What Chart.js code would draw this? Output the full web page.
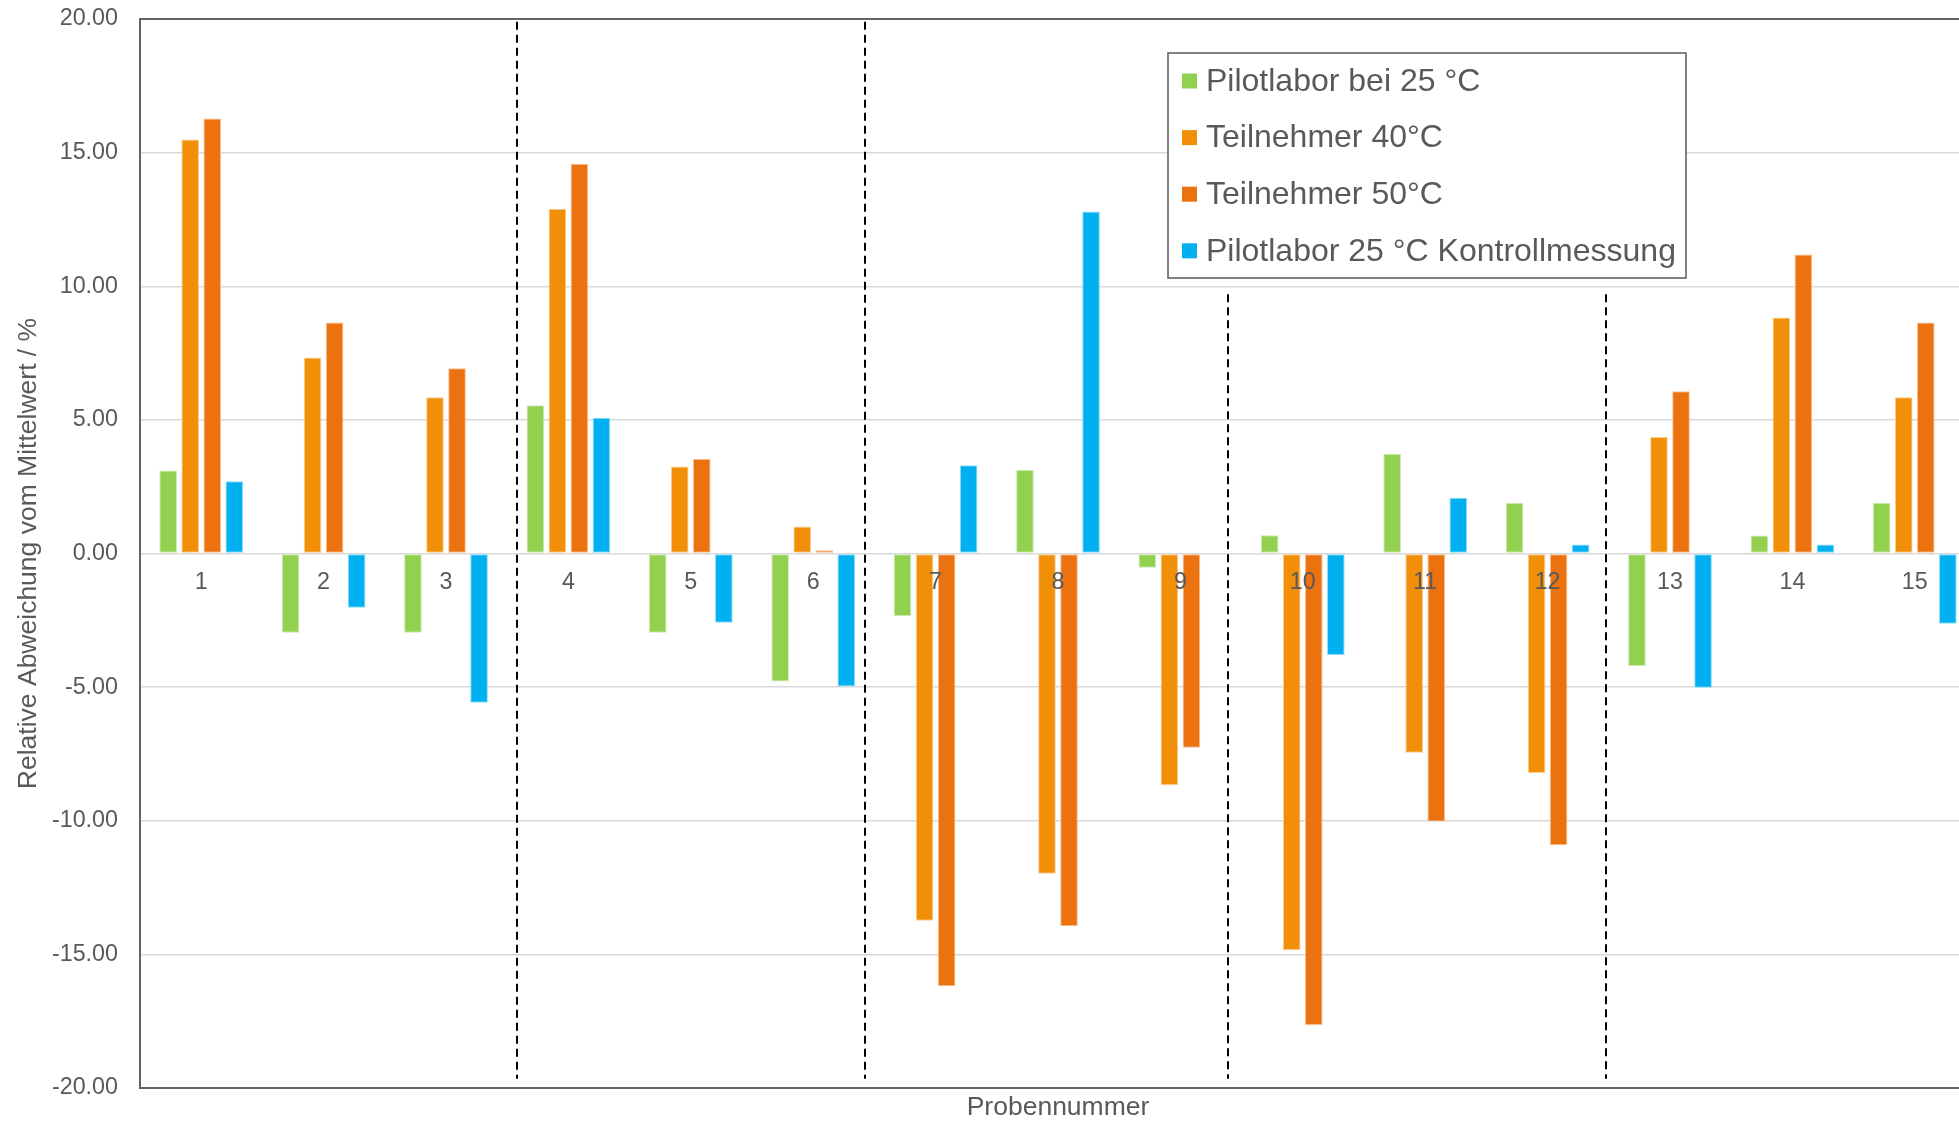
<!DOCTYPE html>
<html>
<head>
<meta charset="utf-8">
<title>Relative Abweichung vom Mittelwert</title>
<script src="https://cdn.jsdelivr.net/npm/chart.js@4.4.1/dist/chart.umd.min.js"></script>
<style>
  html, body { margin: 0; padding: 0; background: #fff; overflow: hidden; }
  #wrap { position: absolute; left: 0; top: 0; width: 1980px; height: 1121px; }
</style>
</head>
<body>
<div id="wrap"><canvas id="chart"></canvas></div>
<script>
// Probennummern
var samples = ['1', '2', '3', '4', '5', '6', '7', '8', '9', '10', '11', '12', '13', '14', '15'];

// relative Abweichung vom Mittelwert in %
var pilot25  = [3.11, -2.97, -2.97, 5.55, -2.97, -4.79, -2.34, 3.12, -0.53, 0.68, 3.73, 1.90, -4.21, 0.67, 1.90];
var teil40   = [15.49, 7.33, 5.85, 12.90, 3.26, 1.01, -13.74, -11.98, -8.67, -14.85, -7.46, -8.21, 4.36, 8.83, 5.85];
var teil50   = [16.28, 8.64, 6.93, 14.58, 3.54, 0.12, -16.19, -13.95, -7.27, -17.64, -10.03, -10.92, 6.07, 11.19, 8.64];
var kontroll = [2.70, -2.03, -5.58, 5.08, -2.59, -4.98, 3.30, 12.80, null, -3.80, 2.09, 0.34, -5.02, 0.34, -2.63];

// y-Achse
var yMin = -20, yMax = 20, yStep = 5;

// gestrichelte Trennlinien (Position in Kategorien, Ober-/Unterkante in %)
var dividerAt     = [2.58, 5.42, 8.39, 11.48];
var dividerTop    = [19.9, 19.9, 9.7, 9.7];
var dividerBottom = -19.65;

var colGreen = '#92D050', colOrange = '#F18F08', colDark = '#EC710F', colBlue = '#00B0F0';

function tint(hex, f) {
  var n = parseInt(hex.slice(1), 16);
  var r = (n >> 16) & 255, g = (n >> 8) & 255, b = n & 255;
  r = Math.round(r + (255 - r) * f); g = Math.round(g + (255 - g) * f); b = Math.round(b + (255 - b) * f);
  return 'rgb(' + r + ',' + g + ',' + b + ')';
}

function barSet(label, data, color) {
  return {
    label: label,
    data: data,
    backgroundColor: color,
    borderColor: tint(color, 0.55),
    borderWidth: 1,
    borderSkipped: false,
    categoryPercentage: 0.72,
    barPercentage: 0.8
  };
}

Chart.defaults.font.family = "'Liberation Sans', Arial, sans-serif";
Chart.defaults.color = '#595959';

// Rahmen + Trennlinien
var frameAndDividers = {
  id: 'frameAndDividers',
  afterDatasetsDraw: function(chart) {
    var ctx = chart.ctx, a = chart.chartArea, x = chart.scales.x, y = chart.scales.y;
    ctx.save();
    ctx.strokeStyle = '#000';
    ctx.lineWidth = 2;
    ctx.setLineDash([8, 5]);
    dividerAt.forEach(function(pos, i) {
      var px = Math.round(x.getPixelForValue(pos));
      ctx.beginPath();
      ctx.moveTo(px, y.getPixelForValue(dividerTop[i]));
      ctx.lineTo(px, y.getPixelForValue(dividerBottom));
      ctx.stroke();
    });
    ctx.setLineDash([]);
    ctx.strokeStyle = '#646464';
    ctx.lineWidth = 2;
    ctx.strokeRect(a.left, a.top, a.right - a.left, a.bottom - a.top);
    ctx.restore();
  }
};

// Legende im Kasten
var boxLegend = {
  id: 'boxLegend',
  afterDraw: function(chart, args, o) {
    var ctx = chart.ctx;
    ctx.save();
    ctx.fillStyle = '#fff';
    ctx.fillRect(o.left, o.top, o.right - o.left, o.bottom - o.top);
    ctx.strokeStyle = '#595959';
    ctx.lineWidth = 1.5;
    ctx.strokeRect(o.left, o.top, o.right - o.left, o.bottom - o.top);
    ctx.font = o.fontSize + "px 'Liberation Sans', Arial, sans-serif";
    ctx.textBaseline = 'middle';
    chart.data.datasets.forEach(function(ds, i) {
      var cy = o.firstRow + i * o.rowStep;
      ctx.fillStyle = ds.backgroundColor;
      ctx.fillRect(o.swatchX, cy - o.swatch / 2, o.swatch, o.swatch);
      ctx.fillStyle = '#595959';
      ctx.fillText(ds.label, o.textX, cy + 1);
    });
    ctx.restore();
  }
};

new Chart(document.getElementById('chart'), {
  type: 'bar',
  data: {
    labels: samples,
    datasets: [
      barSet('Pilotlabor bei 25 °C', pilot25, colGreen),
      barSet('Teilnehmer 40°C', teil40, colOrange),
      barSet('Teilnehmer 50°C', teil50, colDark),
      barSet('Pilotlabor 25 °C Kontrollmessung', kontroll, colBlue)
    ]
  },
  options: {
    responsive: true,
    maintainAspectRatio: false,
    animation: false,
    devicePixelRatio: 1,
    layout: { padding: { top: 19, right: 4, left: 0, bottom: 0 } },
    plugins: {
      legend: { display: false },
      tooltip: { enabled: false },
      boxLegend: {
        left: 1168, top: 53, right: 1686, bottom: 278,
        firstRow: 81, rowStep: 56.6, swatch: 15, swatchX: 1182, textX: 1206, fontSize: 32
      }
    },
    scales: {
      x: {
        position: { y: 0 },
        grid: { display: false, drawTicks: false },
        border: { display: false },
        // Nummern liegen über den Balken
        ticks: { padding: 15, z: 1, font: { size: 23.3 }, color: '#595959' }
      },
      x2: {
        type: 'category',
        labels: samples,
        position: 'bottom',
        grid: { display: false, drawTicks: false },
        border: { display: false },
        ticks: { display: false },
        title: {
          display: true,
          text: 'Probennummer',
          font: { size: 26.5, lineHeight: 1 },
          padding: { top: 0, bottom: 0 },
          color: '#595959'
        },
        afterFit: function(s) { s.height = 33; }
      },
      y: {
        min: yMin,
        max: yMax,
        ticks: {
          stepSize: yStep,
          padding: 0,
          font: { size: 23.3 },
          color: '#595959',
          callback: function(v) { return v.toFixed(2); }
        },
        grid: { color: '#D9D9D9', lineWidth: 1.5, drawTicks: true, tickLength: 22, tickColor: 'rgba(0,0,0,0)' },
        border: { display: false },
        title: {
          display: true,
          text: 'Relative Abweichung vom Mittelwert / %',
          font: { size: 26.5 },
          padding: { top: 12.5, bottom: 0 },
          color: '#595959'
        },
        afterFit: function(s) { s.width = 140; }
      }
    }
  },
  plugins: [frameAndDividers, boxLegend]
});
</script>
</body>
</html>
